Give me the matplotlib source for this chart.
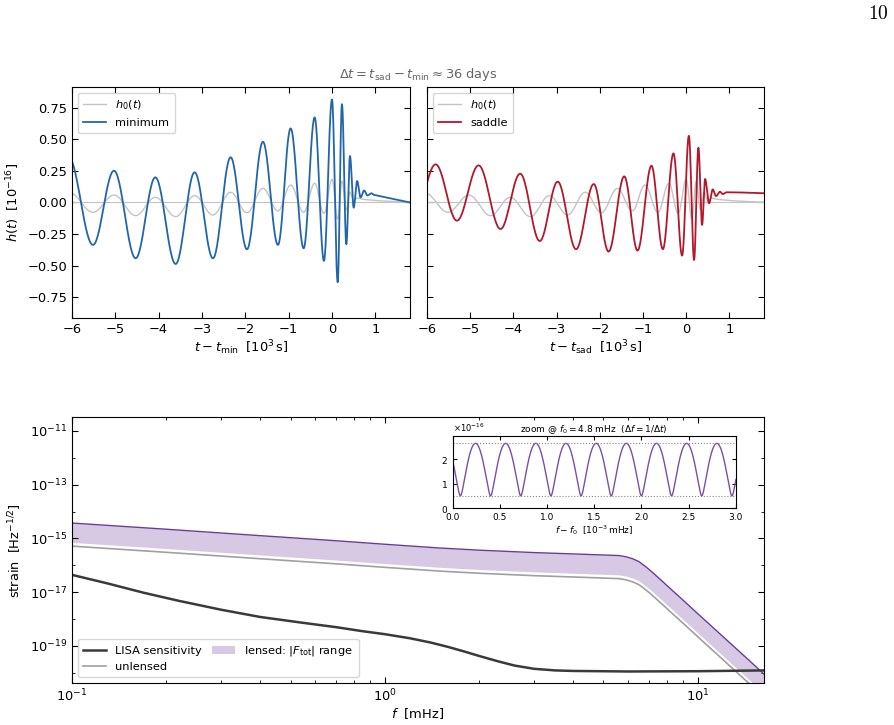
import numpy as np
import matplotlib
matplotlib.use("Agg")
from matplotlib import pyplot as plt
from matplotlib.lines import Line2D
from matplotlib.patches import Patch
from matplotlib.ticker import FixedLocator, NullFormatter, LogLocator

# ---- top panels: extrema of the waveforms (t in 1e3 s, h in 1e-16)
h0_t = [-6.05, -5.515, -5.03, -4.53, -4.076, -3.607, -3.169, -2.746, -2.338, -1.962, -1.593,
        -1.247, -0.954, -0.654, -0.40, -0.186, 0.0, 0.131, 0.23, 0.331, 0.415, 0.50, 0.58]
h0_h = [0.076, -0.078, 0.059, -0.104, 0.041, -0.112, 0.054, -0.099, 0.081, -0.081, 0.112,
        -0.067, 0.138, -0.078, 0.152, -0.086, 0.183, -0.133, 0.170, -0.059, 0.082, 0.012, 0.035]
h0_tail_t = [0.75, 1.1, 1.8]
h0_tail_h = [0.024, 0.013, 0.002]

min_t = [-6.08, -5.515, -5.03, -4.53, -4.076, -3.607, -3.169, -2.746, -2.338, -1.962, -1.593,
         -1.247, -0.954, -0.654, -0.40, -0.186, 0.0, 0.131, 0.23, 0.331, 0.415, 0.50, 0.58,
         0.658, 0.742, 0.818, 0.908, 0.975]
min_h = [0.36, -0.336, 0.252, -0.442, 0.199, -0.487, 0.239, -0.442, 0.358, -0.371, 0.481,
         -0.336, 0.587, -0.363, 0.674, -0.463, 0.816, -0.632, 0.779, -0.331, 0.368, -0.041, 0.170,
         0.040, 0.095, 0.056, 0.073, 0.060]
min_tail_t = [1.8]
min_tail_h = [0.0]

sad_t = [-6.3, -5.80, -5.307, -4.806, -4.298, -3.843, -3.39, -2.975, -2.55, -2.14, -1.797,
         -1.434, -1.127, -0.804, -0.54, -0.295, -0.095, 0.062, 0.182, 0.282, 0.367, 0.437,
         0.529, 0.614, 0.69, 0.783, 0.845, 0.94]
sad_h = [-0.12, 0.302, -0.144, 0.294, -0.21, 0.228, -0.305, 0.165, -0.37, 0.146, -0.389,
         0.207, -0.381, 0.291, -0.370, 0.389, -0.421, 0.528, -0.455, 0.434, -0.178, 0.186,
         -0.006, 0.104, 0.051, 0.085, 0.067, 0.081]
sad_tail_t = [1.3, 1.8]
sad_tail_h = [0.079, 0.073]

# ---- bottom panel (f in mHz, log10 of strain)
f_grid = [0.1, 0.2, 0.4, 0.7, 1.0, 1.5, 2.0, 3.0, 4.0, 5.0, 5.6, 5.9, 6.2, 6.5, 6.8, 7.1,
          7.4, 7.7, 8.0, 9.0, 10, 12, 14, 16.5]
unlensed_log = [-15.29, -15.52, -15.76, -15.95, -16.08, -16.22, -16.30, -16.39, -16.44, -16.48,
                -16.50, -16.545, -16.62, -16.73, -16.90, -17.08, -17.27, -17.45, -17.63, -18.17,
                -18.66, -19.50, -20.21, -20.97]
lensed_max_log = [-14.43, -14.66, -14.90, -15.09, -15.22, -15.36, -15.44, -15.53, -15.58, -15.62,
                  -15.64, -15.685, -15.76, -15.87, -16.04, -16.22, -16.41, -16.59, -16.77, -17.31,
                  -17.80, -18.64, -19.35, -20.11]
lensed_min_log = [-15.15, -15.38, -15.62, -15.81, -15.94, -16.08, -16.16, -16.25, -16.30, -16.34,
                  -16.36, -16.405, -16.48, -16.59, -16.76, -16.94, -17.13, -17.31, -17.49, -18.03,
                  -18.52, -19.36, -20.07, -20.83]

f_lisa = [0.1, 0.13, 0.17, 0.22, 0.3, 0.4, 0.55, 0.7, 0.85, 1.0, 1.2, 1.4, 1.6, 1.8, 2.0,
          2.3, 2.6, 3.0, 3.5, 4.0, 6.0, 10, 16.5]
lisa_log = [-16.36, -16.68, -17.03, -17.33, -17.66, -17.93, -18.15, -18.31, -18.46, -18.57,
            -18.72, -18.88, -19.05, -19.22, -19.38, -19.58, -19.74, -19.86, -19.92, -19.94,
            -19.96, -19.95, -19.92]

# ---- inset: extrema of |h| around f0 (x in 1e-3 mHz, y in 1e-16)
zoom_x = [-0.08, 0.08, 0.24, 0.40, 0.56, 0.72, 0.88, 1.04, 1.20, 1.36, 1.52, 1.68, 1.84, 2.00,
          2.16, 2.32, 2.48, 2.64, 2.80, 2.96, 3.12]
zoom_y = [2.65, 0.5, 2.65, 0.5, 2.65, 0.5, 2.65, 0.5, 2.65, 0.5, 2.65, 0.5, 2.65, 0.5,
          2.65, 0.5, 2.65, 0.5, 2.65, 0.5, 2.65]
zoom_lo, zoom_hi = 0.5, 2.65

BLUE = "#2166ac"
RED = "#b2182b"
LIGHT = "#c4c4c4"
PURPLE = "#6a3d9a"
FILL = "#7b4fa6"
FS = 9.4


def smooth_through(tx, hx, n=30, cusp=False):
    # draw a smooth curve through successive extrema
    ts, hs = [], []
    for i in range(len(tx) - 1):
        s = np.linspace(0, 1, n, endpoint=False)
        ts.append(tx[i] + (tx[i + 1] - tx[i]) * s)
        if cusp:
            lo, hi = min(hx[i], hx[i + 1]), max(hx[i], hx[i + 1])
            a, b = (hi + lo) / 2, (hi - lo) / 2
            ph = np.pi * s if hx[i] > hx[i + 1] else np.pi * (1 - s)
            hs.append(np.sqrt(a * a + b * b + 2 * a * b * np.cos(ph)))
        else:
            w = (1 - np.cos(np.pi * s)) / 2
            hs.append(hx[i] + (hx[i + 1] - hx[i]) * w)
    ts.append([tx[-1]])
    hs.append([hx[-1]])
    return np.concatenate(ts), np.concatenate(hs)


def with_tail(tx, hx, tail_t, tail_h):
    t, h = smooth_through(tx, hx)
    return np.concatenate([t, tail_t]), np.concatenate([h, tail_h])


def style(ax):
    ax.tick_params(direction="in", top=True, right=True, which="both", labelsize=FS)
    ax.tick_params(which="major", length=4)
    ax.tick_params(which="minor", length=2.5)


fig = plt.figure(figsize=(8.95, 7.25), dpi=100)

ax1 = fig.add_axes([0.0804, 0.5614, 0.3777, 0.3186])
ax2 = fig.add_axes([0.4771, 0.5614, 0.3765, 0.3186], sharey=ax1)
axb = fig.add_axes([0.0804, 0.0579, 0.7732, 0.3669])

t0, g0 = with_tail(h0_t, h0_h, h0_tail_t, h0_tail_h)
tm, gm = with_tail(min_t, min_h, min_tail_t, min_tail_h)
tsd, gs = with_tail(sad_t, sad_h, sad_tail_t, sad_tail_h)

for ax, tt, hh, col, lab, xl in [(ax1, tm, gm, BLUE, "minimum", r"$t-t_{\rm min}$  [$10^3\,$s]"),
                                  (ax2, tsd, gs, RED, "saddle", r"$t-t_{\rm sad}$  [$10^3\,$s]")]:
    ax.axhline(0, color=LIGHT, lw=0.8)
    ax.plot(t0, g0, color=LIGHT, lw=1.0, label=r"$h_0(t)$")
    ax.plot(tt, hh, color=col, lw=1.3, label=lab)
    ax.set_xlim(-6, 1.8)
    ax.set_xticks(range(-6, 2))
    ax.set_yticks([-0.75, -0.5, -0.25, 0, 0.25, 0.5, 0.75])
    ax.set_xlabel(xl, fontsize=FS, labelpad=2)
    style(ax)
    ax.legend(loc="upper left", fontsize=8.2, handlelength=2.0, borderpad=0.5)

ax1.set_ylim(-0.915, 0.915)
ax1.set_ylabel(r"$h(t)$  [$10^{-16}$]", fontsize=FS)
ax2.tick_params(labelleft=False)

fig.text(0.467, 0.8966, r"$\Delta t=t_{\rm sad}-t_{\rm min}\approx 36$ days",
         ha="center", va="center", fontsize=9.4, color="#666666")
fig.text(0.993, 0.981, r"$10$", ha="right", va="center", fontsize=14, math_fontfamily="cm")

# ---- bottom panel
f = np.array(f_grid)
axb.fill_between(f, 10 ** np.array(lensed_min_log), 10 ** np.array(lensed_max_log),
                 color=FILL, alpha=0.3, lw=0)
axb.plot(f, 10 ** np.array(lensed_max_log), color=PURPLE, lw=1.0)
axb.plot(f, 10 ** np.array(unlensed_log), color="#a0a0a0", lw=1.2)
axb.plot(f_lisa, 10 ** np.array(lisa_log), color="#3a3a3a", lw=1.8)
axb.set_xscale("log")
axb.set_yscale("log")
axb.set_xlim(0.1, 16.3)
axb.set_ylim(10 ** -20.39, 10 ** -10.48)
axb.yaxis.set_major_locator(FixedLocator([1e-11, 1e-13, 1e-15, 1e-17, 1e-19]))
axb.yaxis.set_minor_locator(FixedLocator([1e-12, 1e-14, 1e-16, 1e-18, 1e-20]))
axb.yaxis.set_minor_formatter(NullFormatter())
axb.xaxis.set_minor_locator(LogLocator(base=10, subs=np.arange(2, 10)))
axb.xaxis.set_minor_formatter(NullFormatter())
style(axb)
axb.set_xlabel(r"$f$  [mHz]", fontsize=FS, labelpad=1)
axb.set_ylabel(r"strain  [Hz$^{-1/2}$]", fontsize=FS)

handles = [Line2D([], [], color="#3a3a3a", lw=1.8),
           Line2D([], [], color="#a0a0a0", lw=1.2),
           Patch(facecolor=FILL, alpha=0.3, lw=0)]
labels = ["LISA sensitivity", "unlensed", r"lensed: $|F_{\rm tot}|$ range"]
axb.legend(handles, labels, loc="lower left", ncol=2, fontsize=8.2, columnspacing=0.9,
           borderpad=0.5)

# ---- inset
axi = fig.add_axes([0.506, 0.2993, 0.316, 0.0993])
zx, zy = smooth_through(zoom_x, zoom_y, n=60, cusp=True)
axi.plot(zx, zy * 1e-16, color=FILL, lw=1.0)
axi.axhline(zoom_hi * 1e-16, color="#888888", ls=":", lw=0.8)
axi.axhline(zoom_lo * 1e-16, color="#888888", ls=":", lw=0.8)
axi.set_xlim(0, 3.0)
axi.set_ylim(0, 2.95e-16)
axi.set_yticks([0, 1e-16, 2e-16])
axi.ticklabel_format(axis="y", style="sci", scilimits=(0, 0), useMathText=True)
axi.yaxis.get_offset_text().set_fontsize(6)
axi.tick_params(direction="in", top=True, right=True, labelsize=6.5, length=3)
axi.set_title(r"zoom @ $f_0=4.8$ mHz  ($\Delta f=1/\Delta t$)", fontsize=6.5, pad=3)
axi.set_xlabel(r"$f-f_0$  [$10^{-3}\,$mHz]", fontsize=6.5, labelpad=1)

fig.savefig("out.png", dpi=100)
